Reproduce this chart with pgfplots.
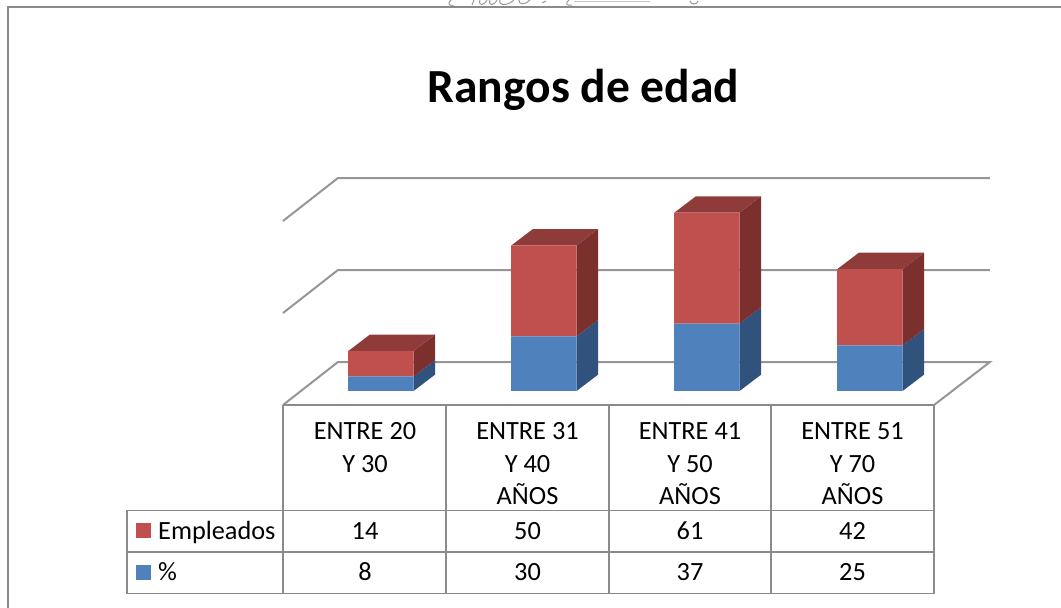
\documentclass[border=0pt]{standalone}
\usepackage{pgfplots}
\usepackage{fontspec}
\setmainfont{Carlito}
\pgfplotsset{compat=1.18}
\definecolor{rd}{HTML}{C0504D}
\definecolor{bl}{HTML}{4F81BD}
\definecolor{rdside}{HTML}{7C302E}
\definecolor{rdtop}{HTML}{8E3B39}
\definecolor{blside}{HTML}{30527C}
\definecolor{grd}{HTML}{969696}
\definecolor{frm}{HTML}{8A8A8A}
\pgfplotsset{base/.style={
  scale only axis,width=1061pt,height=608pt,at={(0pt,0pt)},anchor=south west,
  xmin=-2.3374,xmax=4.1718,ymin=-119.23,ymax=214.84,axis lines=none,clip=false}}
\begin{document}
\begin{tikzpicture}[x=1pt,y=1pt]
\path[use as bounding box] (0,0) rectangle (1061,608);
\begin{axis}[base]
% back wall and floor grid lines
\addplot[grd,line width=2pt] coordinates {(-0.601,-7.69)(-0.264,15.93)(3.736,15.93)(3.393,-7.69)};
\addplot[grd,line width=2pt] coordinates {(-0.601,42.86)(-0.264,66.48)(3.736,66.48)};
\addplot[grd,line width=2pt] coordinates {(-0.601,93.41)(-0.264,117.03)(3.736,117.03)};
% 3D faces: blue side, red side, red top
\addplot[blside,fill=blside,draw=none] coordinates {(0.2,0)(0.332,9)(0.332,17)(0.2,8)} --cycle;
\addplot[rdside,fill=rdside,draw=none] coordinates {(0.2,8)(0.332,17)(0.332,31)(0.2,22)} --cycle;
\addplot[rdtop,fill=rdtop,draw=none] coordinates {(-0.2,22)(-0.068,31)(0.332,31)(0.2,22)} --cycle;
\addplot[blside,fill=blside,draw=none] coordinates {(1.2,0)(1.332,9)(1.332,39)(1.2,30)} --cycle;
\addplot[rdside,fill=rdside,draw=none] coordinates {(1.2,30)(1.332,39)(1.332,89)(1.2,80)} --cycle;
\addplot[rdtop,fill=rdtop,draw=none] coordinates {(0.8,80)(0.932,89)(1.332,89)(1.2,80)} --cycle;
\addplot[blside,fill=blside,draw=none] coordinates {(2.2,0)(2.332,9)(2.332,46)(2.2,37)} --cycle;
\addplot[rdside,fill=rdside,draw=none] coordinates {(2.2,37)(2.332,46)(2.332,107)(2.2,98)} --cycle;
\addplot[rdtop,fill=rdtop,draw=none] coordinates {(1.8,98)(1.932,107)(2.332,107)(2.2,98)} --cycle;
\addplot[blside,fill=blside,draw=none] coordinates {(3.2,0)(3.332,9)(3.332,34)(3.2,25)} --cycle;
\addplot[rdside,fill=rdside,draw=none] coordinates {(3.2,25)(3.332,34)(3.332,76)(3.2,67)} --cycle;
\addplot[rdtop,fill=rdtop,draw=none] coordinates {(2.8,67)(2.932,76)(3.332,76)(3.2,67)} --cycle;
\end{axis}
\begin{axis}[base,ybar stacked,bar width=65.5pt]
\addplot[fill=bl,draw=none] coordinates {(0,8)(1,30)(2,37)(3,25)};
\addplot[fill=rd,draw=none] coordinates {(0,14)(1,50)(2,61)(3,42)};
\end{axis}
\begin{scope}[yshift=608pt,y=-1pt]
% handwriting remnant above the frame
\draw[black!40,line width=1pt] (451,0) .. controls (447,3) and (449,6) .. (454,6);
\draw[black!40,line width=1pt] (474,0) -- (472,5) (480,0) .. controls (478,6) and (484,6) .. (487,0) (490,0) .. controls (488,6) and (494,6) .. (497,0) (500,0) .. controls (498,6) and (508,6) .. (514,0) (519,0) .. controls (518,5) and (526,5) .. (530,0);
\draw[black!40,line width=1pt] (542,3) -- (546,1);
\draw[black!40,line width=1pt] (569,0) .. controls (565,3) and (566,6) .. (572,5);
\draw[black!22,line width=1pt] (574,2) -- (650,2);
\draw[black!40,line width=1pt] (690,1) .. controls (691,5) and (697,5) .. (698,1);
% frame
\draw[frm,line width=2pt] (8,608) -- (8,7) -- (1061,7);
% table
\draw[frm,line width=1.8pt] (283,405) -- (934,405);
\draw[frm,line width=1.8pt] (127,510.5) -- (934,510.5);
\draw[frm,line width=1.8pt] (127,552) -- (934,552);
\draw[frm,line width=1.8pt] (126.1,593.5) -- (934.9,593.5);
\draw[frm,line width=1.8pt] (127,510.5) -- (127,593.5);
\foreach \x in {283,446,609,771,934} \draw[frm,line width=1.8pt] (\x,405) -- (\x,593.5);
\node[font=\fontsize{47.5}{47.5}\selectfont\bfseries,anchor=base,inner sep=0pt] at (583.5,103) {Rangos de edad};
\fontsize{26.3}{30}\selectfont
\foreach \x/\a/\b/\c in {365/ENTRE 20/Y 30/,527.5/ENTRE 31/Y 40/AÑOS,690/ENTRE 41/Y 50/AÑOS,852.5/ENTRE 51/Y 70/AÑOS}{
  \node[anchor=base,inner sep=0pt] at (\x,440) {\a};
  \node[anchor=base,inner sep=0pt] at (\x,473) {\b};
  \node[anchor=base,inner sep=0pt] at (\x,505) {\c};
}
\foreach \x/\a/\b in {365/14/8,527.5/50/30,690/61/37,852.5/42/25}{
  \node[anchor=base,inner sep=0pt] at (\x,540) {\a};
  \node[anchor=base,inner sep=0pt] at (\x,581) {\b};
}
\fill[rd] (136,523) rectangle (151,538);
\fill[bl] (136,565) rectangle (151,580);
\node[anchor=base west,inner sep=0pt] at (158,540) {Empleados};
\node[anchor=base west,inner sep=0pt] at (158,581) {\%};
\end{scope}
\end{tikzpicture}
\end{document}
